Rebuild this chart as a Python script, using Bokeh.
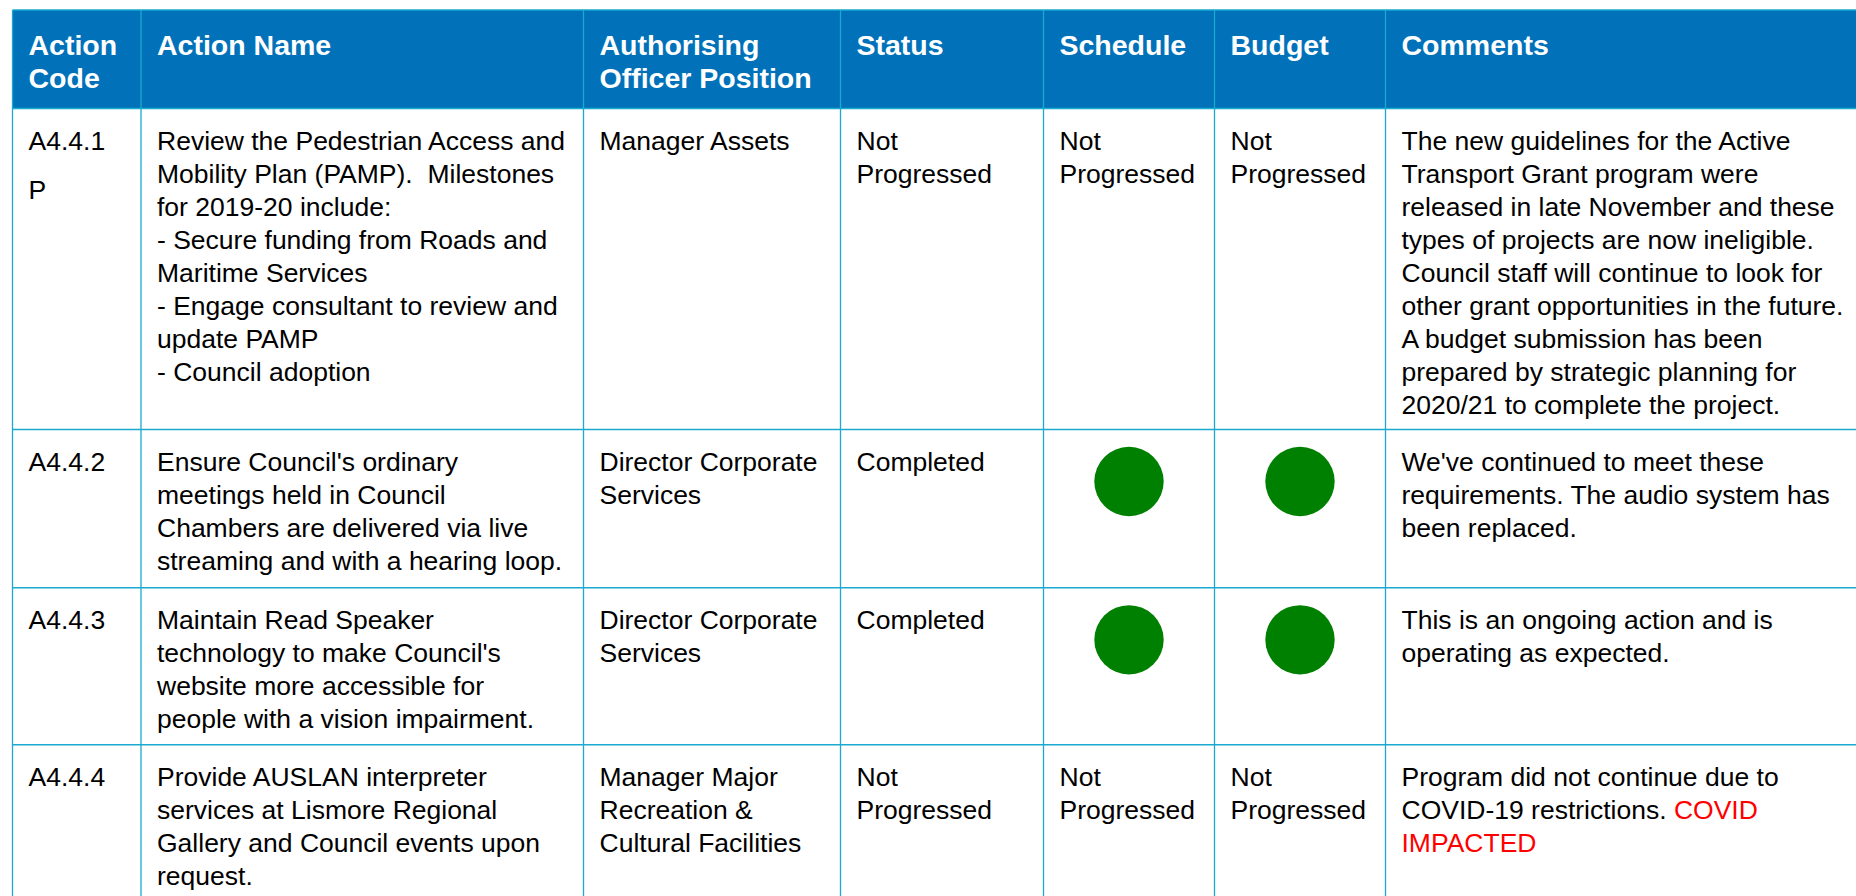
from bokeh.plotting import figure
from bokeh.models import Range1d, ColumnDataSource
from bokeh.core.properties import value
from bokeh.embed import file_html
from bokeh.resources import INLINE

# ---------------- data ----------------
headers = [["Action", "Code"], ["Action Name"], ["Authorising", "Officer Position"],
           ["Status"], ["Schedule"], ["Budget"], ["Comments"]]

action_codes = [["A4.4.1", "P"], ["A4.4.2"], ["A4.4.3"], ["A4.4.4"]]

action_names = [
    ["Review the Pedestrian Access and",
     "Mobility Plan (PAMP).\u00a0 Milestones",
     "for 2019-20 include:",
     "- Secure funding from Roads and",
     "Maritime Services",
     "- Engage consultant to review and",
     "update PAMP",
     "- Council adoption"],
    ["Ensure Council's ordinary",
     "meetings held in Council",
     "Chambers are delivered via live",
     "streaming and with a hearing loop."],
    ["Maintain Read Speaker",
     "technology to make Council's",
     "website more accessible for",
     "people with a vision impairment."],
    ["Provide AUSLAN interpreter",
     "services at Lismore Regional",
     "Gallery and Council events upon",
     "request."],
]

officers = [
    ["Manager Assets"],
    ["Director Corporate", "Services"],
    ["Director Corporate", "Services"],
    ["Manager Major", "Recreation &", "Cultural Facilities"],
]

status = [["Not", "Progressed"], ["Completed"], ["Completed"], ["Not", "Progressed"]]
schedule = ["Not Progressed", "On Track", "On Track", "Not Progressed"]
budget = ["Not Progressed", "On Track", "On Track", "Not Progressed"]

comments = [
    [[("The new guidelines for the Active", "black")],
     [("Transport Grant program were", "black")],
     [("released in late November and these", "black")],
     [("types of projects are now ineligible.", "black")],
     [("Council staff will continue to look for", "black")],
     [("other grant opportunities in the future.", "black")],
     [("A budget submission has been", "black")],
     [("prepared by strategic planning for", "black")],
     [("2020/21 to complete the project.", "black")]],
    [[("We've continued to meet these", "black")],
     [("requirements. The audio system has", "black")],
     [("been replaced.", "black")]],
    [[("This is an ongoing action and is", "black")],
     [("operating as expected.", "black")]],
    [[("Program did not continue due to", "black")],
     [("COVID-19 restrictions. ", "black"), ("COVID", "red")],
     [("IMPACTED", "red")]],
]

# ---------------- layout / style ----------------
W, H = 1856, 896
col_edges = [12, 140.5, 583, 840, 1043, 1214, 1385, 1900]
row_edges = [9.5, 108, 429, 587.3, 744.3, 1000]
PAD = 16
BODY_SIZE = 26.5
HEAD_SIZE = 28.5
BODY_LH = 33.0
HEAD_LH = 33.3
CODE_LH = 49.5
BODY_FIRST = 32
HEAD_FIRST = 35
FONT = "Liberation Sans"
HEAD_BG = "#0172B9"
GRID = "#1AA9CF"
GREEN = "#008000"
RED_C = "#FF0000"
CIRCLE_R = 34.7
CIRCLE_DY = 52

# Arial / Liberation Sans advance widths (em) for measuring inline segments
AW = {' ': .278, '-': .333, '.': .278, '0': .556, '1': .556, '9': .556,
      'C': .722, 'O': .778, 'V': .667, 'I': .278, 'D': .722,
      'r': .333, 'e': .556, 's': .5, 't': .278, 'i': .222, 'c': .5,
      'o': .556, 'n': .556}


def text_width(s, size):
    return sum(AW.get(ch, .556) for ch in s) * size


p = figure(width=W, height=H, output_backend="svg", toolbar_location=None,
           x_range=Range1d(0, W), y_range=Range1d(H, 0),
           min_border=0)
p.axis.visible = False
p.grid.visible = False
p.outline_line_color = None
p.background_fill_color = "white"
p.border_fill_color = "white"

# header background
p.quad(left=[col_edges[0]], right=[col_edges[-1]], top=[row_edges[0]],
       bottom=[row_edges[1]], fill_color=HEAD_BG, line_color=None)

# grid lines
hx0 = [col_edges[0]] * (len(row_edges) - 1)
hx1 = [col_edges[-1]] * (len(row_edges) - 1)
p.segment(x0=hx0, x1=hx1, y0=row_edges[:-1], y1=row_edges[:-1],
          line_color=GRID, line_width=1.6)
p.segment(x0=col_edges[:-1], x1=col_edges[:-1],
          y0=[row_edges[0]] * (len(col_edges) - 1),
          y1=[row_edges[-1]] * (len(col_edges) - 1),
          line_color=GRID, line_width=1.3)

# header texts
hx, hy, ht = [], [], []
for c, lines in enumerate(headers):
    for i, t in enumerate(lines):
        hx.append(col_edges[c] + PAD)
        hy.append(row_edges[0] + HEAD_FIRST + i * HEAD_LH)
        ht.append(t)
p.text(x=hx, y=hy, text=ht, text_color="white", text_font=value(FONT),
       text_font_size=f"{HEAD_SIZE}px", text_font_style="bold",
       text_baseline="alphabetic", text_align="left")

# body texts
bx, by, bt, bc = [], [], [], []
cx, cy = [], []


def add_lines(col, row, lines, lh=BODY_LH):
    for i, t in enumerate(lines):
        bx.append(col_edges[col] + PAD)
        by.append(row_edges[row + 1] + BODY_FIRST + i * lh)
        bt.append(t)
        bc.append("black")


for r in range(len(action_codes)):
    add_lines(0, r, action_codes[r], CODE_LH)
    add_lines(1, r, action_names[r])
    add_lines(2, r, officers[r])
    add_lines(3, r, status[r])
    for col, ind in ((4, schedule[r]), (5, budget[r])):
        if ind == "On Track":
            cx.append((col_edges[col] + col_edges[col + 1]) / 2)
            cy.append(row_edges[r + 1] + CIRCLE_DY)
        else:
            add_lines(col, r, ind.split(" "))
    for i, segs in enumerate(comments[r]):
        x = col_edges[6] + PAD
        for t, colr in segs:
            bx.append(x)
            by.append(row_edges[r + 1] + BODY_FIRST + i * BODY_LH)
            bt.append(t)
            bc.append(RED_C if colr == "red" else "black")
            x += text_width(t, BODY_SIZE)

src = ColumnDataSource(dict(x=bx, y=by, text=bt, color=bc))
p.text(x="x", y="y", text="text", text_color="color", source=src,
       text_font=value(FONT), text_font_size=f"{BODY_SIZE}px",
       text_baseline="alphabetic", text_align="left")

p.circle(x=cx, y=cy, radius=CIRCLE_R, fill_color=GREEN, line_color=None)

open("out.html", "w").write(file_html(p, INLINE))
